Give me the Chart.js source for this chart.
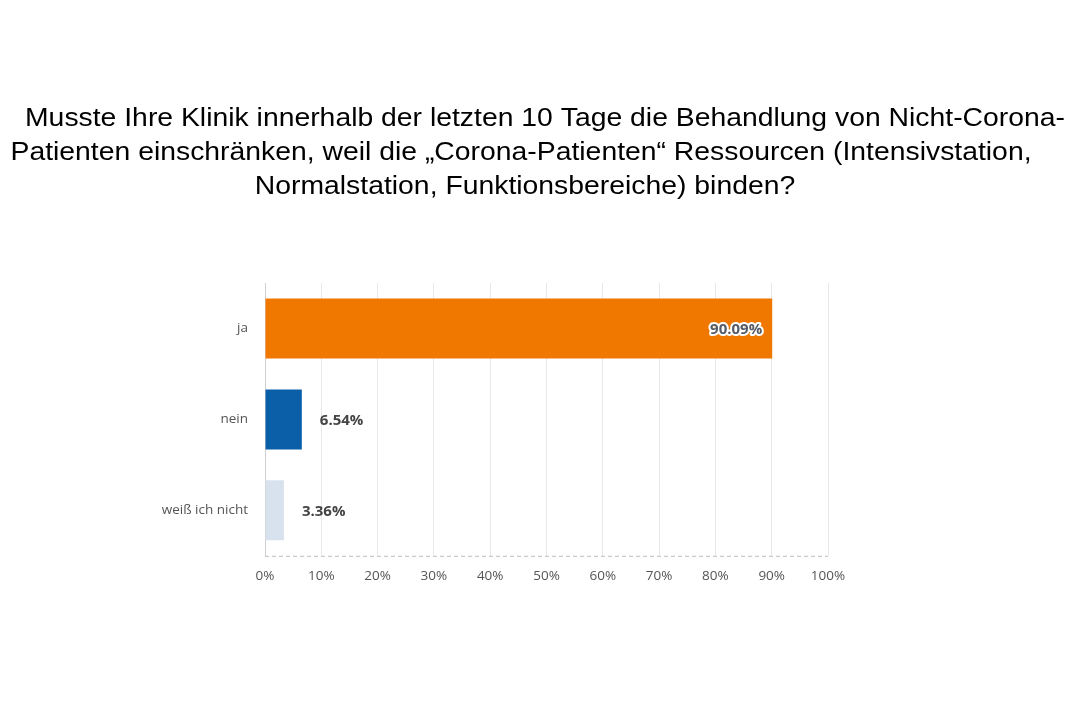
<!DOCTYPE html>
<html lang="de">
<head>
  <meta charset="UTF-8">
  <title>Behandlung von Nicht-Corona-Patienten</title>
  <script src="https://cdn.jsdelivr.net/npm/chart.js"></script>
  <style>
    html, body { margin: 0; padding: 0; background: #fff; }
    #wrap { width: 1070px; height: 713px; }
  </style>
</head>
<body>
  <div id="wrap"><canvas id="umfrage-chart"></canvas></div>

<script>
  // Daten
  const kategorien = ['ja', 'nein', 'weiß ich nicht'];
  const anteile = [90.09, 6.54, 3.36];
  const farben = ['#f07800', '#0b5fa8', '#d7e2ee'];
  const titelZeilen = [
    'Musste Ihre Klinik innerhalb der letzten 10 Tage die Behandlung von Nicht-Corona-',
    'Patienten einschränken, weil die „Corona-Patienten“ Ressourcen (Intensivstation,',
    'Normalstation, Funktionsbereiche) binden?'
  ];

  // Titel über die ganze Breite (das Original ist etwas in die Breite gezogen)
  const titel = {
    id: 'titel',
    afterDraw(chart) {
      const ctx = chart.ctx;
      const mitten = [545, 521, 525]; // Zeilen sind im Original nicht ganz gleich zentriert
      ctx.save();
      ctx.font = '26px "Liberation Sans", Arial, sans-serif';
      ctx.fillStyle = '#000';
      ctx.textBaseline = 'middle';
      ctx.textAlign = 'center';
      const stretch = 1040 / ctx.measureText(titelZeilen[0]).width;
      titelZeilen.forEach((zeile, i) => {
        ctx.save();
        ctx.translate(mitten[i], 119 + i * 34);
        ctx.scale(stretch, 1);
        ctx.fillText(zeile, 0, 0);
        ctx.restore();
      });
      ctx.restore();
    }
  };

  // Prozentwerte an die Balken schreiben + gestrichelte Grundlinie
  const wertLabels = {
    id: 'wertLabels',
    afterDatasetsDraw(chart) {
      const ctx = chart.ctx;
      const area = chart.chartArea;
      ctx.save();
      ctx.strokeStyle = '#bdbdbd';
      ctx.lineWidth = 1;
      ctx.setLineDash([4, 3]);
      ctx.beginPath();
      ctx.moveTo(area.left, area.bottom + 0.5);
      ctx.lineTo(area.right, area.bottom + 0.5);
      ctx.stroke();
      ctx.setLineDash([]);

      const meta = chart.getDatasetMeta(0);
      ctx.textBaseline = 'middle';
      meta.data.forEach((bar, i) => {
        const text = anteile[i].toFixed(2) + '%';
        ctx.font = 'bold 15px "Open Sans", sans-serif';
        if (anteile[i] > 50) {
          // innen, mit weißer Kontur
          ctx.textAlign = 'right';
          ctx.lineJoin = 'round';
          ctx.lineWidth = 4;
          ctx.strokeStyle = '#ffffff';
          ctx.strokeText(text, bar.x - 10, bar.y + 1);
          ctx.fillStyle = '#555b66';
          ctx.fillText(text, bar.x - 10, bar.y + 1);
        } else {
          ctx.textAlign = 'left';
          ctx.fillStyle = '#444444';
          ctx.fillText(text, bar.x + 18, bar.y + 1);
        }
      });
      ctx.restore();
    }
  };

  new Chart(document.getElementById('umfrage-chart'), {
    type: 'bar',
    data: {
      labels: kategorien,
      datasets: [{
        data: anteile,
        backgroundColor: farben,
        borderWidth: 0,
        barPercentage: 0.66,
        categoryPercentage: 1.0
      }]
    },
    options: {
      indexAxis: 'y',
      responsive: true,
      maintainAspectRatio: false,
      animation: false,
      layout: { padding: { left: 0, right: 242, top: 283, bottom: 117 } },
      plugins: {
        legend: { display: false },
        tooltip: { enabled: false },
        title: { display: false }
      },
      scales: {
        x: {
          min: 0,
          max: 100,
          ticks: {
            stepSize: 10,
            color: '#555555',
            font: { family: '"Open Sans", sans-serif', size: 13.5 },
            padding: 12,
            callback: v => v + '%'
          },
          grid: { color: '#e8e8e8', drawTicks: false },
          border: { display: false }
        },
        y: {
          afterFit(scale) { scale.width = 265; },
          ticks: {
            color: '#555555',
            font: { family: '"Open Sans", sans-serif', size: 13.5 },
            padding: 9
          },
          grid: { display: false },
          border: { color: '#d0d0d0' }
        }
      }
    },
    plugins: [wertLabels, titel]
  });
</script>
</body>
</html>
